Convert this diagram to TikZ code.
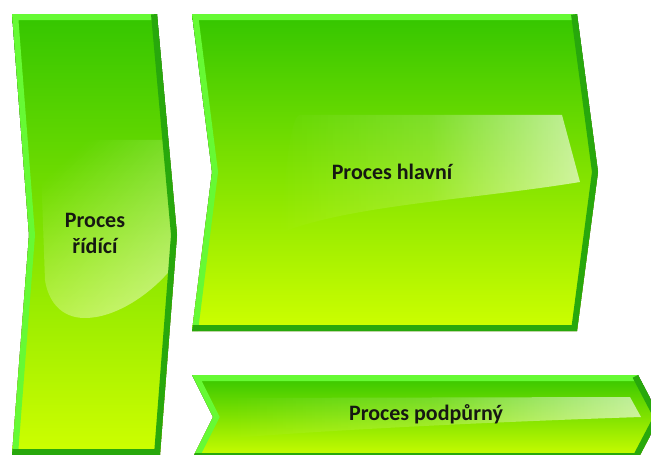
\documentclass[tikz,border=0pt]{standalone}
\usepackage{fontspec}
\setmainfont{Carlito}
\usetikzlibrary{fadings}

\definecolor{gTop}{RGB}{52,198,0}
\definecolor{gBot}{RGB}{206,255,0}
\definecolor{rimLight}{RGB}{102,250,52}
\definecolor{rimDark}{RGB}{40,168,12}
\definecolor{ink}{RGB}{22,24,18}

% gloss fades: transparent on the left, brighter on the right
\tikzfading[name=glossfade, left color=transparent!100, right color=transparent!5, middle color=transparent!75]
\tikzfading[name=glossdiag, top color=transparent!100, bottom color=transparent!20, shading angle=35]

\tikzset{
  chevfill/.style={top color=gTop, bottom color=gBot, draw=none},
  rimlight/.style={draw=rimLight, line width=12pt, line join=miter},
  rimdark/.style={draw=rimDark, line width=12pt, line join=miter},
  glossy/.style={fill=white, fill opacity=0.65, path fading=glossfade},
  glossleft/.style={fill=white, fill opacity=0.55, path fading=glossdiag},
  shadelayer/.style={fill=black, fill opacity=0.05},
  captext/.style={font=\fontsize{22}{26}\selectfont\bfseries, text=ink,
                  align=center, inner sep=0pt},
}

\begin{document}
\begin{tikzpicture}[x=1pt,y=-1pt]
\useasboundingbox (0,0) rectangle (651,455);
\clip (0,0) rectangle (651,455);

% corner points: control process (left)
\coordinate (l1) at (12,14);
\coordinate (l2) at (157,14);
\coordinate (l3) at (177,235);
\coordinate (l4) at (160,455);
\coordinate (l5) at (12,455);
\coordinate (l6) at (29,235);
% main process (top right)
\coordinate (m1) at (192,14);
\coordinate (m2) at (577,14);
\coordinate (m3) at (598,172);
\coordinate (m4) at (577,331);
\coordinate (m5) at (192,331);
\coordinate (m6) at (212,172);
% support process (bottom)
\coordinate (s1) at (192,375);
\coordinate (s2) at (638,375);
\coordinate (s3) at (660,417);
\coordinate (s4) at (638,459);
\coordinate (s5) at (192,459);
\coordinate (s6) at (213,417);

% soft shadows
\foreach \d in {1,2,3,4,5}{
  \begin{scope}[xshift=\d*1.2pt, yshift=-\d*1pt]
    \fill[shadelayer] (l1) -- (l2) -- (l3) -- (l4) -- (l5) -- (l6) -- cycle;
    \fill[shadelayer] (m1) -- (m2) -- (m3) -- (m4) -- (m5) -- (m6) -- cycle;
    \fill[shadelayer] (s1) -- (s2) -- (s3) -- (s4) -- (s5) -- (s6) -- cycle;
  \end{scope}
}

% control process
\fill[chevfill] (l1) -- (l2) -- (l3) -- (l4) -- (l5) -- (l6) -- cycle;
\begin{scope}
  \clip (l1) -- (l2) -- (l3) -- (l4) -- (l5) -- (l6) -- cycle;
  \path[glossleft] (40,140) -- (166,140) -- (177,235) -- (172,268)
        .. controls (150,295) and (115,318) .. (85,318)
        .. controls (60,318) and (48,300) .. (45,280) -- cycle;
  \draw[rimlight] (l5) -- (l6) -- (l1) -- (l2);
  \draw[rimdark] (l2) -- (l3) -- (l4) -- (l5);
\end{scope}

% main process
\fill[chevfill] (m1) -- (m2) -- (m3) -- (m4) -- (m5) -- (m6) -- cycle;
\begin{scope}
  \clip (m1) -- (m2) -- (m3) -- (m4) -- (m5) -- (m6) -- cycle;
  \path[glossy] (300,115) -- (562,115) -- (580,182)
        .. controls (470,200) and (350,205) .. (280,233)
        .. controls (285,180) and (290,115) .. (300,115) -- cycle;
  \draw[rimlight] (m5) -- (m6) -- (m1) -- (m2);
  \draw[rimdark] (m2) -- (m3) -- (m4) -- (m5);
\end{scope}

% support process
\fill[chevfill] (s1) -- (s2) -- (s3) -- (s4) -- (s5) -- (s6) -- cycle;
\begin{scope}
  \clip (s1) -- (s2) -- (s3) -- (s4) -- (s5) -- (s6) -- cycle;
  \path[glossy] (230,398) -- (630,397) -- (641,417)
        .. controls (520,421) and (360,428) .. (230,438) -- cycle;
  \draw[rimlight] (s5) -- (s6) -- (s1) -- (s2);
  \draw[rimdark] (s2) -- (s3) -- (s4) -- (s5);
\end{scope}

% captions
\node[captext] (ctrl) at (95,233) {Proces\\řídící};
\node[captext] (main) at (392,172) {Proces hlavní};
\node[captext] (supp) at (426,414) {Proces podpůrný};
\end{tikzpicture}
\end{document}
